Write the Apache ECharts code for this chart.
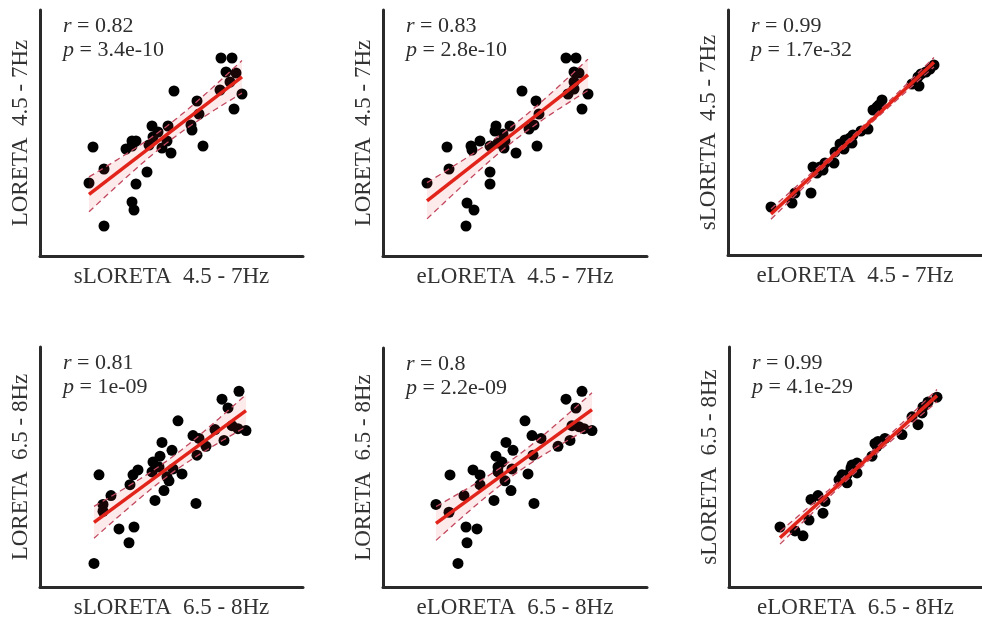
<!DOCTYPE html>
<html>
<head>
<meta charset="utf-8">
<script src="https://cdn.jsdelivr.net/npm/echarts@6/dist/echarts.min.js"></script>
<style>html,body{margin:0;padding:0;background:#fff}#c{width:982px;height:620px}</style>
</head>
<body>
<div id="c"></div>
<script>
// ---- data (arbitrary units) ----
const P1x = [181,192,186,196,190,180,202,194,134,157,159,151,152,163,112,128,118,113,127,122,131,109,92,96,92,86,53,64,49,107,96,92,94,64];
const P1y = [198,198,184,183,174,166,162,147,165,155,142,131,126,110,130,130,124,119,115,108,103,111,115,115,110,107,109,87,73,84,72,54,46,30];
const P2x = [183,193,191,196,191,191,185,205,199,139,153,156,151,146,154,113,127,112,120,122,115,121,133,107,97,88,89,64,66,44,107,107,84,91,83];
const P2y = [198,198,184,183,174,167,162,162,147,165,155,142,131,127,110,130,130,125,122,115,113,108,103,110,115,110,106,109,87,73,84,72,53,46,30];
const P3x = [206,202,198,193,190,184,191,154,151,145,149,140,133,125,122,124,117,112,116,107,106,97,92,85,89,95,83,67,64,43];
const P3y = [190,186,183,181,178,171,169,155,150,145,148,126,124,120,117,112,115,111,106,103,92,92,88,88,82,85,62,62,52,48];
const P4x = [199,182,188,138,175,192,198,206,184,153,159,166,157,156,122,132,120,113,119,112,133,142,127,129,124,115,98,93,90,59,71,63,63,79,94,89,54];
const P4y = [199,191,182,169,160,164,161,159,149,154,151,143,134,85,147,139,133,127,122,117,120,115,112,108,98,88,119,114,104,114,93,84,77,59,61,45,24];
const P5x = [199,183,193,142,189,196,201,209,187,149,158,175,150,151,123,130,113,119,115,115,129,145,122,128,111,90,97,97,67,81,53,66,83,94,84,75];
const P5y = [199,191,182,169,164,163,161,159,149,154,151,143,134,85,147,139,133,127,122,117,120,115,108,98,88,119,114,104,114,93,84,76,61,59,45,24];
const P6x = [208,199,194,193,183,189,173,156,149,148,143,128,122,128,118,113,110,118,89,82,96,94,80,51,66,74,123,146];
const P6y = [193,188,183,177,173,165,155,151,148,143,133,126,121,116,114,114,109,106,93,89,87,75,68,61,57,52,124,146];

const xNames = ['sLORETA  4.5 - 7Hz','eLORETA  4.5 - 7Hz','eLORETA  4.5 - 7Hz','sLORETA  6.5 - 8Hz','eLORETA  6.5 - 8Hz','eLORETA  6.5 - 8Hz'];
const yNames = ['LORETA  4.5 - 7Hz','LORETA  4.5 - 7Hz','sLORETA  4.5 - 7Hz','LORETA  6.5 - 8Hz','LORETA  6.5 - 8Hz','sLORETA  6.5 - 8Hz'];
const rVals = ['0.82','0.83','0.99','0.81','0.8','0.99'];
const pVals = ['3.4e-10','2.8e-10','1.7e-32','1e-09','2.2e-09','4.1e-29'];

// ---- layout ----
const grids = [
  {left:40, top:10, width:263, height:246},
  {left:383, top:10, width:264, height:246},
  {left:728, top:10, width:254, height:245},
  {left:40, top:347, width:263, height:244},
  {left:383, top:348, width:264, height:243},
  {left:729, top:347, width:253, height:244}
];
const XS = [P1x,P2x,P3x,P4x,P5x,P6x];
const YS = [P1y,P2y,P3y,P4y,P5y,P6y];

function regress(xs, ys){
  const n = xs.length;
  let mx=0,my=0; for(let i=0;i<n;i++){mx+=xs[i];my+=ys[i];} mx/=n; my/=n;
  let sxx=0,sxy=0; for(let i=0;i<n;i++){sxx+=(xs[i]-mx)**2; sxy+=(xs[i]-mx)*(ys[i]-my);}
  const b=sxy/sxx, a=my-b*mx;
  let sse=0; for(let i=0;i<n;i++){sse+=(ys[i]-a-b*xs[i])**2;}
  const s=Math.sqrt(sse/(n-2)), t=2.03;
  const xmin=Math.min(...xs), xmax=Math.max(...xs);
  const line=[], up=[], lo=[];
  const N=40;
  for(let k=0;k<=N;k++){
    const x=xmin+(xmax-xmin)*k/N, yh=a+b*x;
    const h=t*s*Math.sqrt(1/n+(x-mx)**2/sxx);
    line.push([x,yh]); up.push([x,yh+h]); lo.push([x,yh-h]);
  }
  return {line, up, lo};
}

const FONT = 'Liberation Serif';
const option = {
  animation:false,
  backgroundColor:'#fff',
  grid: grids.map(g=>Object.assign({containLabel:false}, g)),
  title: grids.map((g,i)=>({
    left: g.left+23, top: g.top+4, padding:0,
    text: '{i|r} = '+rVals[i]+'\n{i|p} = '+pVals[i],
    textStyle:{fontFamily:FONT, fontSize:22, fontWeight:'normal', color:'#2e2e2e', lineHeight:24,
      rich:{i:{fontFamily:FONT, fontSize:22, fontStyle:'italic', color:'#2e2e2e', lineHeight:24}}}
  })),
  xAxis: grids.map((g,i)=>({
    gridIndex:i, type:'value', min:0, max:g.width,
    axisLine:{show:true, onZero:false, lineStyle:{color:'#2a2a2a', width:3}},
    axisTick:{show:false}, axisLabel:{show:false}, splitLine:{show:false},
    name:xNames[i], nameLocation:'middle', nameGap:9,
    nameTextStyle:{fontFamily:FONT, fontSize:23, color:'#333'}
  })),
  yAxis: grids.map((g,i)=>({
    gridIndex:i, type:'value', min:0, max:g.height,
    axisLine:{show:true, onZero:false, lineStyle:{color:'#2a2a2a', width:3}},
    axisTick:{show:false}, axisLabel:{show:false}, splitLine:{show:false},
    name:yNames[i], nameLocation:'middle', nameGap:8,
    nameTextStyle:{fontFamily:FONT, fontSize:23, color:'#333'}
  })),
  series: []
};

XS.forEach((xs,i)=>{
  const ys = YS[i];
  const fit = regress(xs, ys);
  option.series.push({
    type:'scatter', xAxisIndex:i, yAxisIndex:i, symbolSize:11,
    itemStyle:{color:'#000', opacity:1}, data: xs.map((x,k)=>[x, ys[k]]), z:2
  });
  const poly = fit.up.concat(fit.lo.slice().reverse());
  option.series.push({
    type:'custom', xAxisIndex:i, yAxisIndex:i, silent:true, z:3,
    data:[fit.line[0]],
    renderItem:(params, api)=>({
      type:'polygon', shape:{points: poly.map(p=>api.coord(p))},
      style:{fill:'rgba(240,60,70,0.10)'}
    })
  });
  [fit.up, fit.lo].forEach(d=>option.series.push({
    type:'line', xAxisIndex:i, yAxisIndex:i, showSymbol:false, silent:true, z:4,
    lineStyle:{color:'#c2485e', width:1.3, type:[6,4]}, data:d
  }));
  option.series.push({
    type:'line', xAxisIndex:i, yAxisIndex:i, showSymbol:false, silent:true, z:5,
    lineStyle:{color:'#e2231a', width:3.5}, data:[fit.line[0], fit.line[fit.line.length-1]]
  });
});

const chart = echarts.init(document.getElementById('c'), null, {renderer:'canvas'});
chart.setOption(option);
</script>
</body>
</html>
